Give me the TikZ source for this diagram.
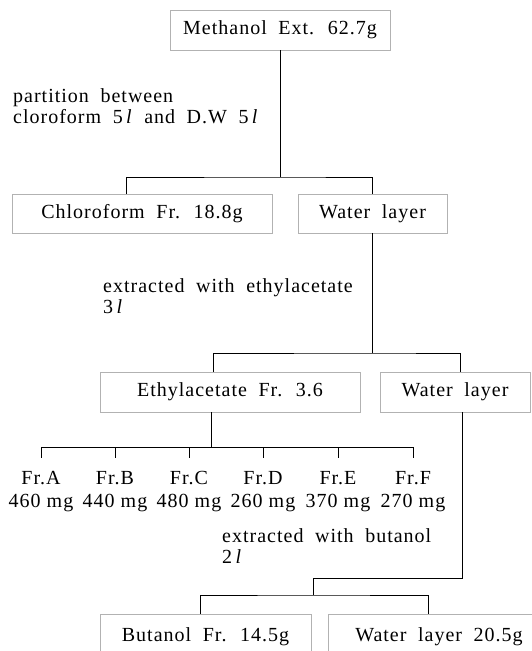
\documentclass[tikz,border=0pt]{standalone}
\usepackage{fontspec}
\setmainfont[LetterSpace=5]{Liberation Serif}
\newcommand\wordgap{\spaceskip=0.58em\relax}
\newcommand\plaingap{\spaceskip=0pt\relax}
\begin{document}
\begin{tikzpicture}[x=1pt,y=-1pt,
    box/.style={draw=gray!60, line width=0.5pt, minimum height=40pt, inner sep=0pt},
    note/.style={align=left, anchor=west, inner sep=0pt},
    link/.style={line width=0.8pt},
    font=\fontsize{20}{21}\selectfont\wordgap]
    \useasboundingbox (0,0) rectangle (531,651);
    \node[box, minimum width=220pt] (meth) at (280,30) {Methanol Ext. 62.7g};
    \node[note] (part) at (13,106) {partition between\\cloroform 5\,\textit{l} and D.W 5\,\textit{l}};
    \node[box, minimum width=260pt, minimum height=39pt] (chl) at (142,213.5) {Chloroform Fr. 18.8g};
    \node[box, minimum width=149pt, minimum height=39pt] (wat1) at (372.5,213.5) {Water layer};
    \node[note] (ext1) at (103,296) {extracted with ethylacetate\\3\,\textit{l}};
    \node[box, minimum width=260pt] (ethyl) at (230,392) {Ethylacetate Fr. 3.6};
    \node[box, minimum width=150pt] (wat2) at (455,392) {Water layer};
    \foreach \n/\x/\m in {A/41/460, B/115/440, C/189/480, D/263/260, E/338/370, F/413/270}
        \node[align=center, inner sep=0pt, font=\fontsize{20}{21}\selectfont\plaingap] (fr\n) at (\x,492) {Fr.\n\\[2pt]\m\ mg};
    \node[note] (ext2) at (222,546) {extracted with butanol\\2\,\textit{l}};
    \node[box, minimum width=211pt, minimum height=46pt] (but) at (205.5,637) {Butanol Fr. 14.5g};
    \node[box, minimum width=222pt, minimum height=46pt] (wat3) at (439,637) {Water layer 20.5g};

    \coordinate (s1) at (280,177);
    \draw[link] (meth.south) -- (s1);
    \draw[link] ([xshift=-16pt]chl.north) |- (s1) -| (wat1.north);
    \coordinate (s2) at (372.5,353);
    \draw[link] (wat1.south) -- (s2);
    \draw[link] ([xshift=-17pt]ethyl.north) |- (s2) -| ([xshift=5pt]wat2.north);
    \coordinate (bar) at (211,447);
    \draw[link] ([xshift=-19pt]ethyl.south) -- (bar);
    \draw[link] (frA.north |- bar) -- (frF.north |- bar);
    \foreach \n in {A,B,C,D,E,F}
        \draw[link] (fr\n.north |- bar) -- ++(0,11);
    \coordinate (s3) at (313,578);
    \coordinate (s4) at (313,595);
    \draw[link] ([xshift=7pt]wat2.south) |- (s3) -- (s4);
    \draw[link] ([xshift=-5.5pt]but.north) |- (s4) -| ([xshift=-11pt]wat3.north);
\end{tikzpicture}
\end{document}
